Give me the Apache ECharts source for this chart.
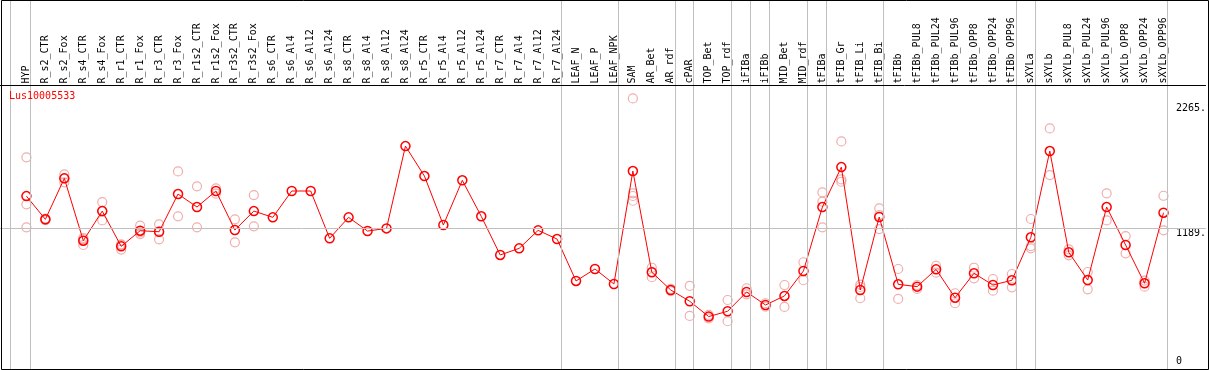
<!DOCTYPE html>
<html><head><meta charset="utf-8">
<script src="https://cdn.jsdelivr.net/npm/echarts@6/dist/echarts.min.js"></script>
<style>html,body{margin:0;padding:0;background:#fff}#c{width:1209px;height:370px}</style>
</head><body><div id="c"></div>
<script>
const categories = ['HYP','R_s2_CTR','R_s2_Fox','R_s4_CTR','R_s4_Fox','R_r1_CTR','R_r1_Fox','R_r3_CTR','R_r3_Fox','R_r1s2_CTR','R_r1s2_Fox','R_r3s2_CTR','R_r3s2_Fox','R_s6_CTR','R_s6_Al4','R_s6_Al12','R_s6_Al24','R_s8_CTR','R_s8_Al4','R_s8_Al12','R_s8_Al24','R_r5_CTR','R_r5_Al4','R_r5_Al12','R_r5_Al24','R_r7_CTR','R_r7_Al4','R_r7_Al12','R_r7_Al24','LEAF_N','LEAF_P','LEAF_NPK','SAM','AR_Bet','AR_rdf','cPAR','TOP_Bet','TOP_rdf','iFIBa','iFIBb','MID_Bet','MID_rdf','tFIBa','tFIB_Gr','tFIB_Li','tFIB_Bi','tFIBb','tFIBb_PUL8','tFIBb_PUL24','tFIBb_PUL96','tFIBb_OPP8','tFIBb_OPP24','tFIBb_OPP96','sXYLa','sXYLb','sXYLb_PUL8','sXYLb_PUL24','sXYLb_PUL96','sXYLb_OPP8','sXYLb_OPP24','sXYLb_OPP96'];

const means = [1468,1268,1621,1084,1339,1035,1170,1161,1486,1374,1512,1176,1339,1285,1512,1512,1104,1285,1167,1190,1899,1641,1219,1604,1294,961,1018,1173,1098,737,840,711,1684,812,659,562,430,476,642,530,608,823,1374,1718,659,1288,708,688,837,593,803,702,743,1113,1856,984,745,1374,1047,717,1325];

const rep1 = [1802,1275,1655,1098,1417,1053,1213,1225,1681,1552,1535,1268,1477,null,null,null,null,null,null,null,null,null,null,null,null,null,null,null,null,null,null,null,2310,851,668,694,444,573,674,545,702,898,1500,1939,705,1362,840,702,868,631,851,754,797,1271,2051,1010,814,1492,1124,740,1471];
const rep2 = [1397,1265,1587,1047,1259,1007,1141,1096,1294,1199,1489,1070,1208,null,null,null,null,null,null,null,null,null,null,null,null,null,null,null,null,null,null,null,1492,769,650,436,415,390,622,516,513,743,1420,1612,685,1305,582,668,808,545,760,653,682,1038,1649,958,665,1259,975,688,1173];
const rep3 = [1199,1262,1621,1107,1341,1045,1156,1162,null,null,null,null,null,null,null,null,null,null,null,null,null,null,null,null,null,null,null,null,null,null,null,null,1469,816,659,null,null,null,null,null,null,null,1199,1592,588,1184,null,null,null,null,null,null,null,1018,null,null,null,null,null,null,null];
const rep4 = [null,null,null,null,null,null,null,null,null,null,null,null,null,null,null,null,null,null,null,null,null,null,null,null,null,null,null,null,null,null,null,null,1428,null,null,null,null,null,null,null,null,null,null,null,null,null,null,null,null,null,null,null,null,null,null,null,null,null,null,null,null];

const yTickLabels = [1189, 2265];
const yZeroLabel = [0];
const groupEnds = [0, 28, 31, 34, 35, 37, 38, 39, 41, 42, 45, 52, 53, 60];
const chartTitle = 'Lus10005533';

// layout
const X0 = 26.5, STEP = 19, W = 1209, H = 370;
const Y0 = 366.5, PXPER = 138 / 1189;
const xMin = -X0 / STEP, xMax = (W - X0) / STEP;
const yMin = -(H - Y0) / PXPER, yMax = Y0 / PXPER;
const sepOff = 4 / STEP;
const headerVal = (Y0 - 85.5) / PXPER;
const FONT = 'DejaVu Sans Mono';

const toPts = arr => arr.map((v, i) => [i, v]).filter(d => d[1] != null);
const idx = categories.map((c, i) => i);

const repStyle = {
  type: 'scatter', symbol: 'circle', symbolSize: 9, z: 2, silent: true,
  itemStyle: { color: 'rgba(0,0,0,0)', borderColor: '#ec9a9a', borderWidth: 1.2 }
};

const chart = echarts.init(document.getElementById('c'), null, { renderer: 'canvas' });
chart.setOption({
  animation: false,
  backgroundColor: '#fff',
  title: {
    text: chartTitle, left: 9, top: 91, padding: 0,
    textStyle: { color: '#ff0000', fontSize: 10, fontFamily: FONT, fontWeight: 'normal' }
  },
  grid: { left: 0, right: 0, top: 0, bottom: 0, containLabel: false },
  xAxis: [
    { type: 'value', min: xMin, max: xMax, show: false },
    {
      type: 'value', min: xMin, max: xMax, position: 'top', offset: -85.5,
      axisLine: { show: false }, axisTick: { show: false }, splitLine: { show: false },
      axisLabel: {
        customValues: idx, rotate: 90, margin: 2,
        fontSize: 10, fontFamily: FONT, color: '#000',
        formatter: v => categories[Math.round(v)]
      }
    }
  ],
  yAxis: [
    {
      type: 'value', min: yMin, max: yMax, position: 'left', offset: -10,
      axisLine: { show: true, onZero: false, lineStyle: { color: '#c0c0c0', width: 1 } },
      axisTick: { show: false }, axisLabel: { show: false }, splitLine: { show: false }
    },
    {
      type: 'value', min: yMin, max: yMax, position: 'right',
      axisLine: { show: false }, axisTick: { show: false }, splitLine: { show: false },
      axisLabel: {
        inside: true, customValues: yTickLabels, align: 'left', verticalAlign: 'top', margin: 30,
        fontSize: 10, fontFamily: FONT, color: '#000', formatter: v => v + '.'
      }
    },
    {
      type: 'value', min: yMin, max: yMax, position: 'right',
      axisLine: { show: false }, axisTick: { show: false }, splitLine: { show: false },
      axisLabel: {
        inside: true, customValues: yZeroLabel, align: 'left', verticalAlign: 'bottom', margin: 30,
        fontSize: 10, fontFamily: FONT, color: '#000', formatter: v => String(v)
      }
    }
  ],
  graphic: [
    {
      type: 'rect', z: 100, silent: true,
      shape: { x: 1.5, y: 0.5, width: 1207, height: 369 },
      style: { fill: 'none', stroke: '#000', lineWidth: 1 }
    }
  ],
  series: [
    {
      type: 'line', data: [], z: 1, silent: true,
      markLine: {
        silent: true, symbol: 'none', animation: false,
        label: { show: false },
        lineStyle: { color: '#c0c0c0', width: 1, type: 'solid' },
        emphasis: { disabled: true },
        data: [
          ...groupEnds.map(i => ({ xAxis: i + sepOff })),
          { yAxis: yTickLabels[0] },
          { yAxis: headerVal, lineStyle: { color: '#000', width: 1, type: 'solid' } }
        ]
      }
    },
    Object.assign({ data: toPts(rep1) }, repStyle),
    Object.assign({ data: toPts(rep2) }, repStyle),
    Object.assign({ data: toPts(rep3) }, repStyle),
    Object.assign({ data: toPts(rep4) }, repStyle),
    {
      type: 'line', data: toPts(means), z: 3, silent: true,
      symbol: 'circle', symbolSize: 9, showAllSymbol: true,
      lineStyle: { color: '#ff0000', width: 1 },
      itemStyle: { color: 'rgba(0,0,0,0)', borderColor: '#ff0000', borderWidth: 1.5 }
    }
  ]
});
</script>
</body></html>
